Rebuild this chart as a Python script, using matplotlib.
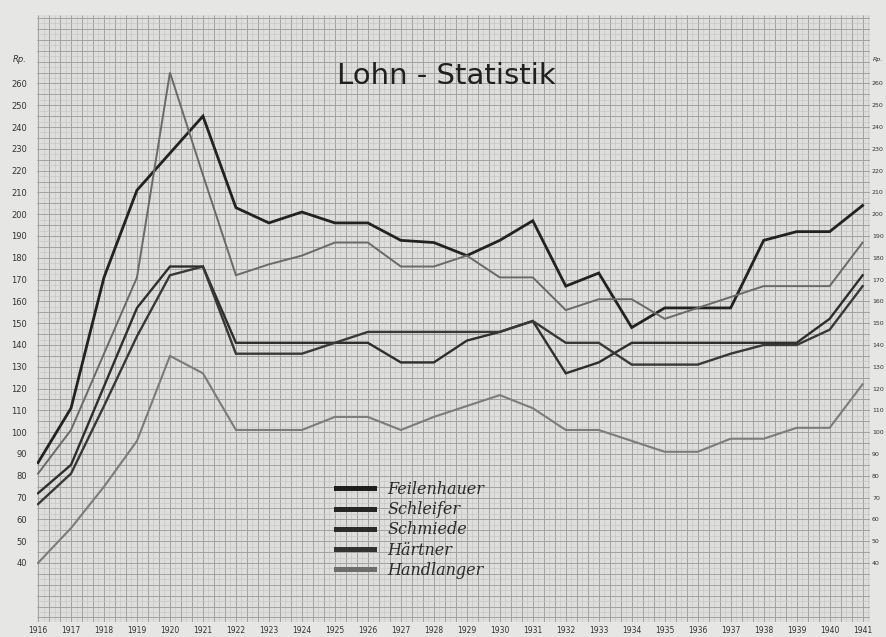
import numpy as np
import matplotlib
matplotlib.use("Agg")
import matplotlib.pyplot as plt

# Lohn-Statistik 1916-1941, Werte in Rp.
years = list(range(1916, 1942))
feilenhauer = [86, 111, 171, 211, 228, 245, 203, 196, 201, 196, 196, 188, 187,
               181, 188, 197, 167, 173, 148, 157, 157, 157, 188, 192, 192, 204]
schleifer = [81, 101, 136, 171, 265, 218, 172, 177, 181, 187, 187, 176, 176,
             181, 171, 171, 156, 161, 161, 152, 157, 162, 167, 167, 167, 187]
schmiede = [72, 85, 121, 157, 176, 176, 141, 141, 141, 141, 141, 132, 132,
            142, 146, 151, 127, 132, 141, 141, 141, 141, 141, 141, 152, 172]
haertner = [67, 81, 112, 144, 172, 176, 136, 136, 136, 141, 146, 146, 146,
            146, 146, 151, 141, 141, 131, 131, 131, 136, 140, 140, 147, 167]
handlanger = [40, 56, 75, 96, 135, 127, 101, 101, 101, 107, 107, 101, 107,
              112, 117, 111, 101, 101, 96, 91, 91, 97, 97, 102, 102, 122]

names = ["Feilenhauer", "Schleifer", "Schmiede", "Härtner", "Handlanger"]
series = [feilenhauer, schleifer, schmiede, haertner, handlanger]
colors = ["#222222", "#6a6a6a", "#2e2e2e", "#383838", "#7c7c7c"]
widths = [2.0, 1.4, 1.7, 1.7, 1.5]
yticks = list(range(40, 261, 10))

fig = plt.figure(figsize=(8.86, 6.37), dpi=100, facecolor="#e6e6e4")
ax = fig.add_axes([0.0418, 0.0235, 0.940, 0.953])
ax.set_facecolor("#dededc")
ax.set_xlim(1915.97, 1941.22)
ax.set_ylim(12.9, 291.4)

# graph paper
x0, x1 = ax.get_xlim()
y0, y1 = ax.get_ylim()
ax.vlines(np.arange(1916 - 1 / 6, x1, 1 / 6), y0, y1, color="#c2c2c0", lw=0.4, zorder=0)
ax.vlines(np.arange(1916, x1, 1 / 3), y0, y1, color="#a2a2a0", lw=0.7, zorder=0)
ax.hlines(np.arange(12.5, y1, 2.5), x0, x1, color="#c2c2c0", lw=0.4, zorder=0)
ax.hlines(np.arange(15, y1, 5), x0, x1, color="#a2a2a0", lw=0.7, zorder=0)

for name, vals, c, w in zip(names, series, colors, widths):
    ax.plot(years, vals, color=c, lw=w, label=name, solid_joinstyle="miter", zorder=3)

for s in ax.spines.values():
    s.set_visible(False)

ax.set_xticks(years)
ax.set_xticklabels([str(y) for y in years])
ax.set_yticks(yticks)
ax.set_yticklabels([str(v) for v in yticks])
ax.tick_params(axis="x", length=0, pad=3, labelsize=5.5, colors="#333333")
ax.tick_params(axis="y", length=0, pad=7, labelsize=6, colors="#333333")

# right-hand scale, narrow because the sheet ends there
rax = ax.secondary_yaxis("right")
rax.set_yticks(yticks)
rax.set_yticklabels([str(v) for v in yticks])
rax.tick_params(length=0, pad=1.5, labelsize=4.5, colors="#333333")
rax.spines["right"].set_visible(False)

ytr = ax.get_yaxis_transform()
ax.text(-0.012, 271, "Rp.", transform=ytr, ha="right", va="center",
        fontsize=6, color="#333333", style="italic")
ax.text(1.003, 271, "Rp.", transform=ytr, ha="left", va="center",
        fontsize=4.5, color="#333333", style="italic")

ax.text(0.492, 0.90, "Lohn - Statistik", transform=ax.transAxes,
        ha="center", va="center", fontsize=21, color="#202020",
        family="DejaVu Sans")

leg = ax.legend(loc="upper left", bbox_to_anchor=(328 / 886, 1 - 473 / 637),
                bbox_transform=fig.transFigure, frameon=False, borderpad=0,
                handlelength=2.4, handletextpad=0.8, labelspacing=0.2,
                prop={"family": "DejaVu Serif", "style": "italic", "size": 11.5})
legend_cols = ["#1e1e1e", "#262626", "#2c2c2c", "#333333", "#6e6e6e"]
for ln, c in zip(leg.get_lines(), legend_cols):
    ln.set_color(c)
    ln.set_linewidth(3.6)
for t in leg.get_texts():
    t.set_color("#2a2a2a")

fig.savefig("out.png", dpi=100, facecolor=fig.get_facecolor())
